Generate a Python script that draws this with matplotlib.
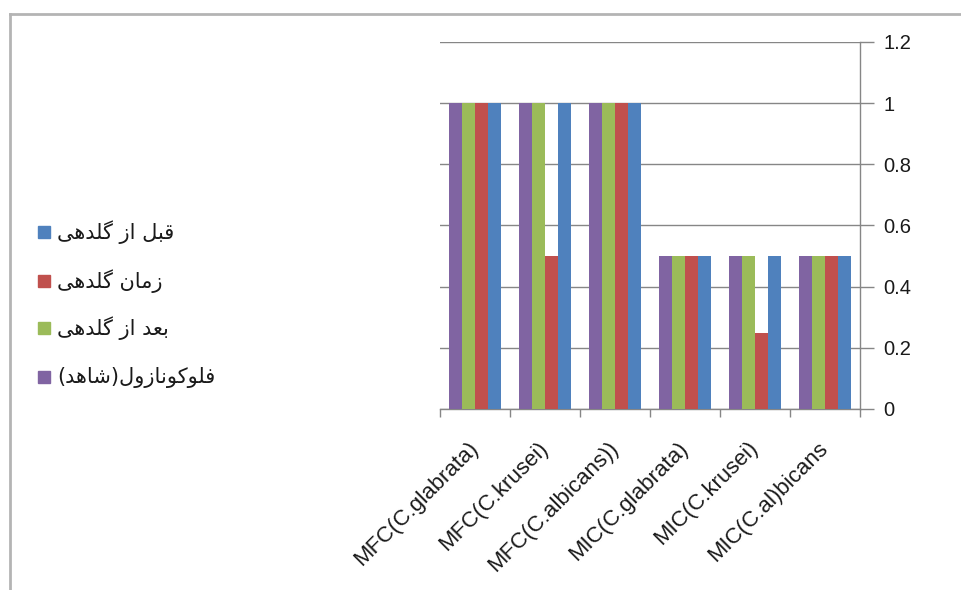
import matplotlib
matplotlib.use("Agg")
import matplotlib.pyplot as plt
import numpy as np
from matplotlib.lines import Line2D

# ---------------- data ----------------
categories = ["MFC(C.glabrata)", "MFC(C.krusei)", "MFC(C.albicans))",
              "MIC(C.glabrata)", "MIC(C.krusei)", "MIC(C.al)bicans"]
series_names = ["قبل از گلدهی", "زمان گلدهی", "بعد از گلدهی", "فلوکونازول(شاهد)"]
before_flowering = [1, 1, 1, 0.5, 0.5, 0.5]
during_flowering = [1, 0.5, 1, 0.5, 0.25, 0.5]
after_flowering = [1, 1, 1, 0.5, 0.5, 0.5]
fluconazole = [1, 1, 1, 0.5, 0.5, 0.5]
yticks = [0, 0.2, 0.4, 0.6, 0.8, 1, 1.2]
ytick_labels = ["0", "0.2", "0.4", "0.6", "0.8", "1", "1.2"]
colors = ["#4F81BD", "#C0504D", "#9BBB59", "#8064A2"]

# -------------- Persian shaping (presentation forms) --------------
FORMS = {
    'ا': ('\uFE8D', '\uFE8E', None, None),
    'ب': ('\uFE8F', '\uFE90', '\uFE91', '\uFE92'),
    'د': ('\uFEA9', '\uFEAA', None, None),
    'ز': ('\uFEAF', '\uFEB0', None, None),
    'ش': ('\uFEB5', '\uFEB6', '\uFEB7', '\uFEB8'),
    'ع': ('\uFEC9', '\uFECA', '\uFECB', '\uFECC'),
    'ف': ('\uFED1', '\uFED2', '\uFED3', '\uFED4'),
    'ق': ('\uFED5', '\uFED6', '\uFED7', '\uFED8'),
    'ل': ('\uFEDD', '\uFEDE', '\uFEDF', '\uFEE0'),
    'م': ('\uFEE1', '\uFEE2', '\uFEE3', '\uFEE4'),
    'ن': ('\uFEE5', '\uFEE6', '\uFEE7', '\uFEE8'),
    'ه': ('\uFEE9', '\uFEEA', '\uFEEB', '\uFEEC'),
    'و': ('\uFEED', '\uFEEE', None, None),
    'ک': ('\uFB8E', '\uFB8F', '\uFB90', '\uFB91'),
    'گ': ('\uFB92', '\uFB93', '\uFB94', '\uFB95'),
    'ی': ('\uFBFC', '\uFBFD', '\uFBFE', '\uFBFF'),
}


def dual(c):
    return c in FORMS and FORMS[c][2] is not None


def shape(text):
    out = []
    for i, c in enumerate(text):
        if c not in FORMS:
            out.append(c)
            continue
        prev_c = text[i - 1] if i > 0 else ''
        next_c = text[i + 1] if i + 1 < len(text) else ''
        pj = dual(prev_c)
        nj = dual(c) and next_c in FORMS
        iso, fin, ini, med = FORMS[c]
        if pj and nj:
            out.append(med)
        elif pj:
            out.append(fin)
        elif nj:
            out.append(ini)
        else:
            out.append(iso)
    vis = ''.join(reversed(out))
    mirror = {'(': ')', ')': '('}
    return ''.join(mirror.get(ch, ch) for ch in vis)


# ---------------- figure ----------------
W, H = 961, 590
fig = plt.figure(figsize=(W / 100, H / 100), dpi=100)
fig.patch.set_facecolor("white")

ax = fig.add_axes([440 / W, 1 - 409 / H, 420 / W, 367 / H])

x = np.arange(len(categories))
bw = 13 / 70
# left-to-right within a group: purple, green, red, blue
draw = [(fluconazole, colors[3], -1.5), (after_flowering, colors[2], -0.5),
        (during_flowering, colors[1], 0.5), (before_flowering, colors[0], 1.5)]
for vals, col, off in draw:
    ax.bar(x + off * bw, vals, width=bw, color=col, zorder=3, linewidth=0)

ax.set_xlim(-0.5, len(categories) - 0.5)
ax.set_ylim(0, 1.2)

ax.yaxis.tick_right()
ax.set_yticks(yticks)
ax.set_yticklabels(ytick_labels, fontsize=14.5, family="Liberation Sans", color="#1a1a1a")
ax.tick_params(axis="y", length=10, width=1, color="#868686", pad=7, direction="out")
ax.grid(axis="y", color="#868686", linewidth=1, zorder=0)

ax.set_xticks(x)
ax.set_xticklabels(categories, rotation=45, ha="right", va="center",
                   rotation_mode="anchor", fontsize=16, family="Liberation Sans",
                   color="#1a1a1a")
ax.tick_params(axis="x", which="major", length=0, pad=26)
ax.set_xticks(np.arange(len(categories) + 1) - 0.5, minor=True)
ax.tick_params(axis="x", which="minor", length=6, width=1, color="#868686", direction="out")

for s in ["left", "top"]:
    ax.spines[s].set_visible(False)
for s in ["right", "bottom"]:
    ax.spines[s].set_color("#868686")
    ax.spines[s].set_linewidth(1)

# legend (manual, Excel-like)
leg_y = [232, 281, 328, 377]
for name, col, yy in zip(series_names, colors, leg_y):
    fig.patches.append(plt.Rectangle((38 / W, 1 - (yy + 6) / H), 12 / W, 12 / H,
                                     transform=fig.transFigure, color=col))
    fig.text(57 / W, 1 - yy / H, shape(name), fontsize=15, family="DejaVu Sans",
             ha="left", va="center", color="#1a1a1a")

# outer frame (top and left edges visible)
fig.add_artist(Line2D([9.5 / W, 1], [1 - 14 / H, 1 - 14 / H], transform=fig.transFigure,
                      color="#B4B4B4", linewidth=2))
fig.add_artist(Line2D([9.5 / W, 9.5 / W], [0, 1 - 14 / H], transform=fig.transFigure,
                      color="#B4B4B4", linewidth=2))

fig.savefig("out.png", dpi=100, facecolor="white")
